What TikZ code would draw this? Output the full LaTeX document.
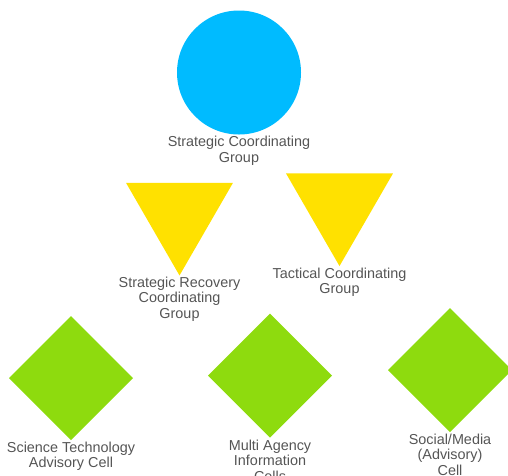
\documentclass[tikz,border=0pt]{standalone}
\usepackage{fontspec}
\setmainfont{Liberation Sans}
\usetikzlibrary{shapes.geometric}

\definecolor{circblue}{HTML}{00BBFF}
\definecolor{triyellow}{HTML}{FFE100}
\definecolor{diagreen}{HTML}{8EDB0E}
\definecolor{labelgray}{HTML}{555555}

\begin{document}
\begin{tikzpicture}[x=1pt,y=-1pt,
  circ/.style={circle,fill=circblue,inner sep=0,outer sep=0,minimum size=124pt},
  tri/.style={regular polygon,regular polygon sides=3,shape border rotate=180,
    fill=triyellow,inner sep=0,outer sep=0,minimum size=123.5pt},
  dia/.style={diamond,fill=diagreen,inner sep=0,outer sep=0,minimum width=124pt,minimum height=124pt},
  lbl/.style={anchor=north,align=center,text=labelgray,inner sep=1pt,
    font=\fontsize{14.4}{15.5}\selectfont}]
\useasboundingbox (0,0) rectangle (508,475);

% top level
\node[circ] (scg) at (239,72.5) {};
\node[lbl] (scg-text) at (239,135) {Strategic Coordinating\\Group};

% second level
\node[tri] (srcg) at (179.5,213.7) {};
\node[lbl] (srcg-text) at (179.5,275.5) {Strategic Recovery\\Coordinating\\Group};
\node[tri] (tcg) at (339.5,204.3) {};
\node[lbl] (tcg-text) at (339.5,266.5) {Tactical Coordinating\\Group};

% third level
\node[dia] (stac) at (71,378) {};
\node[lbl] (stac-text) at (71,440.5) {Science Technology\\Advisory Cell};
\node[dia] (maic) at (270,375.5) {};
\node[lbl] (maic-text) at (270,438.5) {Multi Agency\\Information\\Cells};
\node[dia] (smac) at (450,370) {};
\node[lbl] (smac-text) at (450,432.5) {Social/Media\\(Advisory)\\Cell};

\end{tikzpicture}
\end{document}
